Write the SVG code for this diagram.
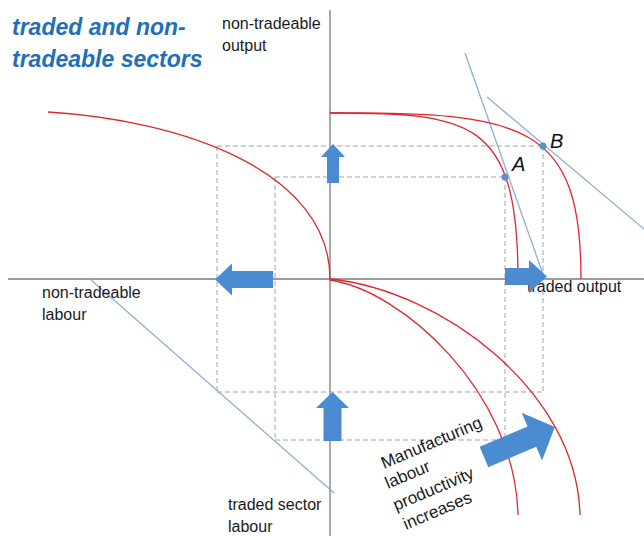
<svg xmlns="http://www.w3.org/2000/svg" width="644" height="536" viewBox="0 0 644 536">
<style>
.axis{stroke:#7a7a7a;stroke-width:1.3;fill:none}
.dash{stroke:#a3a3a3;stroke-width:1;stroke-dasharray:5 3;fill:none}
.ppf{stroke:#e0262e;stroke-width:1.3;fill:none}
.tan{stroke:#8fb0d6;stroke-width:1.3;fill:none}
.blk{fill:#4a8bd1}
.dot{fill:#5b8fcb}
.lbl{font-family:"Liberation Sans",Arial,sans-serif;font-size:16px;fill:#1a1a1a}
.big{font-family:"Liberation Sans",Arial,sans-serif;font-size:17px;fill:#1a1a1a}
.pt{font-family:"Liberation Sans",Arial,sans-serif;font-size:20px;font-style:italic;fill:#111}
.title{font-family:"Liberation Sans",Arial,sans-serif;font-size:23px;font-weight:bold;font-style:italic;fill:#1f70b8}
</style>
<rect width="644" height="536" fill="#ffffff"/>
<g id="title">
<text class="title" x="12" y="35">traded and non-</text>
<text class="title" x="12" y="67">tradeable sectors</text>
</g>
<g id="axes">
<line class="axis" x1="330" y1="10" x2="330" y2="536"/>
<line class="axis" x1="8" y1="279" x2="644" y2="279"/>
</g>
<g id="connectors">
<line class="dash" x1="217" y1="146" x2="543" y2="146"/>
<line class="dash" x1="275" y1="177" x2="505" y2="177"/>
<line class="dash" x1="217" y1="146" x2="217" y2="392"/>
<line class="dash" x1="275" y1="177" x2="275" y2="440"/>
<line class="dash" x1="217" y1="392" x2="543" y2="392"/>
<line class="dash" x1="275" y1="440" x2="505" y2="440"/>
<line class="dash" x1="505" y1="177" x2="505" y2="440"/>
<line class="dash" x1="543" y1="146" x2="543" y2="392"/>
<line class="tan" x1="465" y1="53" x2="545" y2="280"/>
<line class="tan" x1="487" y1="97" x2="644" y2="229"/>
<line class="tan" x1="90" y1="279" x2="334" y2="493"/>
</g>
<g id="curves">
<path class="ppf" d="M48,112 C180,120 330,170 330,279"/>
<path class="ppf" d="M330,113 C470,113 518,118 518,279"/>
<path class="ppf" d="M330,113 C525,112 581,124 581,279"/>
<path class="ppf" d="M330,280 C400,290 515,390 518,515"/>
<path class="ppf" d="M330,279 C440,290 577,390 580,515"/>
</g>
<g id="labels">
<text class="lbl" x="222" y="29">non-tradeable</text>
<text class="lbl" x="222" y="51">output</text>
<text class="lbl" x="42" y="298">non-tradeable</text>
<text class="lbl" x="42" y="320">labour</text>
<text class="lbl" x="228" y="510">traded sector</text>
<text class="lbl" x="228" y="532">labour</text>
<text class="lbl" x="527" y="292">traded output</text>
</g>
<g id="point-A">
<circle class="dot" cx="505" cy="177" r="3.5"/>
<text class="pt" x="512" y="171">A</text>
</g>
<g id="point-B">
<circle class="dot" cx="543" cy="146" r="3.5"/>
<text class="pt" x="550" y="148">B</text>
</g>
<g id="arrows">
<path id="arrow-up-top" class="blk" d="M333,144 L345,157 L339,157 L339,183 L327,183 L327,157 L321,157 Z"/>
<path id="arrow-left" class="blk" d="M215,279.5 L232,263.5 L232,271 L273,271 L273,288 L232,288 L232,295.5 Z"/>
<path id="arrow-right" class="blk" d="M505,268 L529,268 L529,260 L547,276.5 L529,293 L529,285 L505,285 Z"/>
<path id="arrow-up-bottom" class="blk" d="M332.5,392 L349,408 L341.5,408 L341.5,441 L323.5,441 L323.5,408 L316,408 Z"/>
<path id="arrow-shift" class="blk" transform="translate(484,457) rotate(-23)" d="M0,-11 L52,-11 L52,-26 L77,0 L52,26 L52,11 L0,11 Z"/>
</g>
<g id="note">
<text class="big" transform="translate(384,469) rotate(-23)">Manufacturing</text>
<text class="big" transform="translate(388,489) rotate(-23)">labour</text>
<text class="big" transform="translate(396,511) rotate(-23)">productivity</text>
<text class="big" transform="translate(406,530) rotate(-23)">increases</text>
</g>
</svg>
